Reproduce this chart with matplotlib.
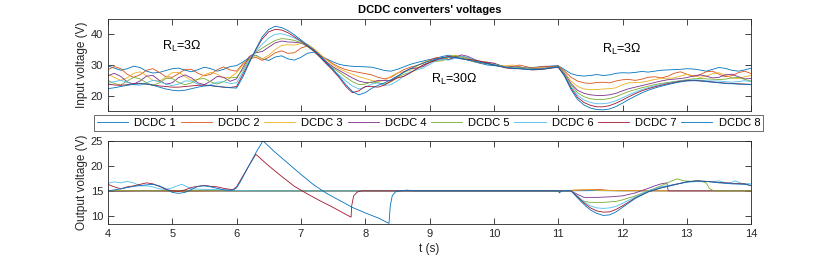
import numpy as np
import matplotlib
matplotlib.use("Agg")
import matplotlib.pyplot as plt

plt.rcParams["font.family"] = ["Liberation Sans", "DejaVu Sans"]
plt.rcParams["mathtext.fontset"] = "custom"
plt.rcParams["mathtext.rm"] = "Liberation Sans"

# --- data -------------------------------------------------------------
labels = ["DCDC 1", "DCDC 2", "DCDC 3", "DCDC 4",
          "DCDC 5", "DCDC 6", "DCDC 7", "DCDC 8"]
colors = ["#0072BD", "#D95319", "#EDB120", "#7E2F8E",
          "#77AC30", "#4DBEEE", "#A2142F", "#0072BD"]

# input voltages, sampled every 0.1 s from 4 s to 14 s
t_in = np.linspace(4, 14, 101)

in_1 = [29.7, 29.0, 28.3, 28.8, 29.6, 29.2, 28.0, 27.4, 27.6, 28.2, 28.8,
        29.0, 28.3, 27.8, 28.5, 29.3, 28.8, 28.0, 28.6, 29.5, 29.8,
        31.0, 32.5, 33.2, 32.0, 31.5, 32.6, 33.0, 32.0, 31.6, 32.5,
        33.8, 34.2, 33.0, 32.0, 31.0, 30.2, 29.8, 29.6, 29.5, 29.4,
        29.3, 28.8, 28.2, 28.0, 28.6, 29.4, 30.2, 30.8, 31.3, 31.8,
        32.2, 32.8, 33.2, 32.8, 32.2, 31.6, 31.0, 30.5, 30.0, 29.8,
        29.6, 29.2, 29.0, 29.3, 29.0, 29.2, 29.4, 29.5, 29.7, 29.8,
        28.5, 27.2, 26.6, 26.4, 26.6, 26.9, 26.6, 26.8, 27.3, 27.5,
        27.4, 27.6, 27.9, 27.7, 28.0, 28.3, 28.4, 28.5, 28.6, 28.8,
        28.7, 28.4, 28.0, 28.6, 29.2, 28.9, 28.3, 28.0, 28.4, 29.0]
in_2 = [28.5, 29.5, 28.8, 27.0, 26.0, 26.8, 28.3, 28.8, 27.6, 26.2, 26.0,
        27.2, 28.6, 28.6, 27.3, 26.5, 27.0, 28.5, 29.4, 28.4, 28.0,
        30.5, 32.0, 32.5, 31.5, 32.5, 34.0, 34.6, 33.8, 34.0, 35.5,
        36.2, 35.0, 33.2, 31.8, 30.4, 29.3, 28.5, 28.0, 27.6, 27.2,
        26.8, 26.0, 25.5, 26.0, 27.3, 28.5, 29.3, 29.8, 30.6, 31.6,
        32.4, 32.2, 31.8, 32.5, 32.9, 32.3, 31.2, 30.6, 30.8, 30.5,
        29.9, 29.3, 29.6, 30.0, 29.5, 29.0, 29.3, 29.6, 29.5, 29.7,
        28.0, 26.0, 24.8, 24.2, 24.0, 24.3, 24.4, 24.2, 24.8, 25.2,
        25.3, 25.0, 25.4, 26.0, 26.2, 25.8, 26.3, 27.3, 27.8, 27.0,
        26.3, 26.8, 27.8, 28.0, 27.0, 26.2, 26.5, 27.5, 28.0, 27.2]
in_3 = [27.0, 26.0, 25.0, 25.8, 27.3, 27.8, 26.5, 25.0, 24.8, 26.0, 27.5,
        27.6, 26.2, 25.0, 25.3, 26.8, 27.6, 27.0, 25.8, 26.0, 27.5,
        30.0, 32.6, 33.0, 32.0, 33.2, 35.0, 36.4, 36.6, 36.5, 37.0,
        36.8, 35.4, 33.6, 31.6, 30.0, 28.8, 27.8, 27.0, 26.2, 25.6,
        25.0, 24.6, 25.0, 26.3, 27.4, 27.8, 28.3, 29.5, 30.8, 31.5,
        31.4, 31.8, 32.8, 33.2, 32.6, 31.6, 31.0, 31.2, 31.0, 30.2,
        29.6, 29.8, 30.0, 29.4, 28.8, 29.0, 29.2, 29.0, 29.3, 29.6,
        27.5, 24.8, 23.0, 22.2, 22.0, 22.0, 22.2, 22.3, 22.6, 23.6,
        24.2, 24.3, 24.4, 24.8, 25.3, 25.6, 25.7, 25.8, 26.4, 26.9,
        26.6, 26.0, 26.3, 27.2, 27.5, 26.7, 25.8, 25.6, 26.2, 26.6]
in_4 = [26.5, 27.3, 26.3, 24.5, 23.8, 24.8, 26.4, 26.6, 25.0, 23.8, 24.2,
        25.9, 26.8, 25.8, 24.2, 23.6, 24.8, 26.3, 26.0, 24.7, 25.5,
        29.2, 32.8, 34.0, 34.4, 35.8, 37.2, 37.8, 37.5, 37.4, 37.2,
        36.2, 34.8, 33.0, 31.0, 29.4, 28.2, 27.0, 25.8, 24.8, 24.3,
        24.3, 25.0, 25.0, 25.0, 26.2, 27.8, 28.8, 29.0, 29.5, 30.8,
        32.0, 32.0, 31.8, 32.6, 33.3, 32.8, 31.8, 31.0, 30.9, 30.6,
        29.8, 29.3, 29.4, 29.4, 29.0, 28.8, 28.9, 29.0, 29.3, 29.5,
        27.2, 24.0, 21.8, 20.8, 20.3, 20.1, 20.1, 20.3, 20.8, 21.6,
        22.3, 22.8, 23.3, 23.8, 24.3, 24.8, 25.2, 25.4, 25.6, 25.9,
        26.4, 26.8, 26.4, 25.8, 26.0, 26.8, 27.0, 26.2, 25.5, 25.6]
in_5 = [25.0, 24.0, 23.5, 24.8, 26.0, 25.5, 24.2, 23.4, 24.2, 25.6, 25.6,
        24.3, 23.6, 24.2, 25.4, 25.6, 24.5, 23.8, 24.6, 25.8, 26.0,
        28.5, 32.0, 34.2, 35.5, 36.8, 38.0, 38.6, 38.4, 38.0, 37.3,
        36.0, 34.5, 32.6, 30.6, 29.0, 27.6, 26.0, 24.6, 23.6, 23.8,
        24.5, 24.2, 23.8, 24.5, 26.0, 27.0, 27.6, 28.6, 30.0, 31.0,
        31.2, 31.4, 32.4, 33.0, 32.6, 32.0, 31.4, 30.8, 30.4, 30.2,
        29.8, 29.3, 29.1, 29.2, 29.0, 28.7, 28.6, 28.9, 29.2, 29.4,
        27.0, 23.5, 21.0, 19.7, 19.0, 18.8, 18.8, 19.1, 19.7, 20.6,
        21.4, 22.0, 22.6, 23.1, 23.6, 24.0, 24.3, 24.6, 24.9, 25.2,
        25.5, 25.6, 25.5, 25.4, 25.3, 25.4, 25.8, 26.0, 25.3, 24.8]
in_6 = [24.0, 24.6, 25.0, 24.4, 23.6, 23.4, 24.2, 25.0, 24.6, 23.8, 23.3,
        23.8, 24.8, 24.8, 23.8, 23.2, 23.6, 24.4, 24.6, 24.0, 24.2,
        27.8, 31.5, 34.5, 36.8, 38.8, 40.0, 40.2, 39.6, 38.8, 37.6,
        36.2, 34.5, 32.4, 30.2, 28.4, 26.6, 24.8, 23.2, 22.2, 22.8,
        23.8, 24.2, 23.4, 23.6, 24.8, 26.4, 27.8, 28.4, 29.0, 30.2,
        31.4, 31.8, 31.6, 32.2, 32.8, 32.5, 31.6, 30.8, 30.4, 30.2,
        29.7, 29.2, 29.0, 29.0, 28.8, 28.6, 28.6, 28.8, 29.1, 29.3,
        26.8, 23.0, 20.2, 18.6, 17.8, 17.4, 17.4, 17.7, 18.4, 19.3,
        20.3, 21.2, 22.0, 22.6, 23.2, 23.7, 24.1, 24.5, 24.8, 25.0,
        25.2, 25.1, 24.9, 24.8, 24.8, 24.6, 24.4, 24.6, 24.9, 24.6]
in_7 = [23.8, 23.5, 23.4, 23.6, 23.9, 24.0, 23.8, 23.5, 23.2, 23.0, 22.8,
        22.8, 23.0, 23.2, 23.4, 23.5, 23.3, 23.0, 22.8, 22.7, 23.0,
        27.0, 31.0, 35.0, 38.5, 40.8, 41.6, 41.4, 40.5, 39.2, 37.8,
        36.2, 34.6, 32.6, 30.4, 28.2, 25.8, 23.0, 21.0, 21.6, 23.0,
        23.0, 22.8, 23.5, 24.8, 25.8, 26.3, 27.4, 28.8, 30.0, 30.8,
        31.6, 32.4, 32.8, 32.5, 32.0, 31.8, 31.6, 31.2, 30.6, 30.0,
        29.5, 29.0, 28.8, 28.8, 28.6, 28.4, 28.5, 28.7, 29.0, 29.3,
        26.5, 22.5, 19.5, 17.8, 16.9, 16.4, 16.4, 16.8, 17.6, 18.6,
        19.7, 20.7, 21.6, 22.3, 22.9, 23.4, 23.9, 24.3, 24.7, 24.9,
        25.0, 24.9, 24.7, 24.5, 24.3, 24.1, 24.0, 23.9, 23.8, 23.7]
in_8 = [22.3, 22.6, 23.0, 23.4, 23.7, 23.9, 23.8, 23.4, 22.8, 22.2, 21.8,
        21.6, 21.8, 22.3, 22.8, 23.2, 23.3, 23.1, 22.8, 22.6, 22.5,
        26.2, 30.8, 35.2, 39.2, 41.6, 42.6, 42.2, 41.2, 39.8, 38.2,
        36.6, 35.0, 33.0, 30.8, 28.6, 26.2, 23.6, 21.4, 20.3, 21.0,
        22.4, 23.4, 24.2, 25.2, 26.4, 27.6, 28.8, 29.8, 30.6, 31.3,
        31.9, 32.4, 32.6, 32.4, 32.0, 31.6, 31.2, 30.8, 30.4, 30.0,
        29.6, 29.2, 28.9, 28.8, 28.6, 28.5, 28.6, 28.8, 29.1, 29.4,
        26.3, 22.0, 18.8, 17.0, 16.0, 15.5, 15.4, 15.7, 16.5, 17.6,
        18.8, 19.9, 20.9, 21.8, 22.5, 23.1, 23.6, 24.1, 24.5, 24.8,
        24.9, 24.8, 24.6, 24.4, 24.2, 24.0, 23.9, 23.8, 23.7, 23.6]

# output voltages, (t, V) breakpoints per converter
out_1 = [(4.0, 15.0), (5.0, 15.0), (5.5, 15.05), (6.0, 15.0), (11.0, 15.0),
         (11.02, 14.7), (11.05, 15.0), (11.6, 15.05), (12.0, 15.0), (14.0, 15.0)]
out_2 = [(4.0, 14.95), (4.6, 15.0), (5.2, 14.9), (5.8, 15.0), (11.0, 15.0),
         (11.4, 15.2), (11.6, 15.3), (11.8, 15.1), (12.6, 15.0), (14.0, 15.0)]
out_3 = [(4.0, 15.05), (5.0, 15.1), (6.0, 15.05), (7.5, 15.0), (11.0, 15.0),
         (11.2, 15.1), (11.5, 15.3), (11.6, 15.1), (12.0, 15.0), (14.0, 15.0)]
out_4 = [(4.0, 14.9), (4.5, 15.0), (11.2, 15.0), (11.3, 14.3), (11.4, 13.7),
         (11.6, 13.7), (11.8, 13.8), (12.0, 14.0), (12.2, 14.6), (12.4, 15.5),
         (12.5, 16.0), (12.6, 16.4), (12.69, 16.6), (12.71, 15.0), (14.0, 15.0)]
out_5 = [(4.0, 15.0), (11.2, 15.0), (11.3, 13.8), (11.4, 12.9), (11.5, 12.7),
         (11.7, 12.7), (11.9, 12.9), (12.0, 13.2), (12.2, 14.0), (12.4, 15.0),
         (12.6, 16.0), (12.75, 16.9), (12.85, 17.4), (12.95, 17.0), (13.1, 16.9),
         (13.2, 17.0), (13.3, 16.6), (13.35, 15.5), (13.42, 15.0), (14.0, 15.0)]
out_6 = [(4.0, 16.5), (4.1, 16.8), (4.2, 16.6), (4.3, 16.9), (4.4, 16.6),
         (4.5, 16.0), (4.6, 16.0), (4.7, 15.8), (4.8, 15.4), (4.9, 15.3),
         (5.0, 15.6), (5.1, 16.1), (5.15, 16.3), (5.2, 16.0), (5.3, 15.4),
         (5.5, 15.3), (5.8, 15.2), (6.0, 15.1), (6.2, 15.0), (11.2, 15.0),
         (11.3, 14.0), (11.4, 12.8), (11.5, 12.0), (11.6, 11.6), (11.7, 11.5),
         (11.8, 11.6), (11.9, 11.9), (12.0, 12.5), (12.2, 13.8), (12.4, 15.0),
         (12.6, 15.8), (12.8, 16.3), (13.0, 16.7), (13.2, 16.9), (13.4, 16.8),
         (13.5, 17.0), (13.6, 16.6), (13.7, 16.7), (13.75, 17.0), (13.85, 16.5),
         (14.0, 16.4)]
out_7 = [(4.0, 16.3), (4.1, 15.8), (4.2, 15.4), (4.3, 15.8), (4.4, 16.0),
         (4.5, 16.3), (4.6, 16.6), (4.7, 16.4), (4.8, 15.9), (4.9, 15.3),
         (5.0, 15.0), (5.1, 14.9), (5.2, 15.2), (5.3, 15.7), (5.4, 15.9),
         (5.5, 16.1), (5.6, 15.9), (5.7, 15.8), (5.8, 15.5), (5.9, 15.3),
         (5.95, 15.3), (6.0, 15.8), (6.05, 16.9), (6.1, 18.0), (6.2, 20.2),
         (6.3, 22.3), (6.5, 20.0), (6.7, 17.9), (6.9, 15.9), (7.1, 14.4),
         (7.3, 13.0), (7.5, 11.7), (7.7, 10.3), (7.78, 9.75), (7.79, 12.0),
         (7.82, 14.0), (7.88, 14.8), (7.95, 15.0), (11.2, 15.0), (11.3, 13.8),
         (11.4, 12.6), (11.5, 11.6), (11.6, 11.0), (11.7, 10.75), (11.8, 10.8),
         (11.9, 11.3), (12.0, 12.0), (12.2, 13.6), (12.4, 14.8), (12.6, 15.6),
         (12.8, 16.2), (13.0, 16.8), (13.15, 17.0), (13.3, 16.9), (13.5, 16.7),
         (13.7, 16.5), (13.9, 16.4), (14.0, 16.0)]
out_8 = [(4.0, 15.0), (4.2, 15.4), (4.4, 15.9), (4.6, 16.2), (4.7, 16.3),
         (4.8, 16.0), (4.9, 15.4), (5.0, 14.7), (5.1, 14.5), (5.2, 14.7),
         (5.3, 15.3), (5.4, 15.9), (5.5, 16.0), (5.6, 15.8), (5.7, 15.5),
         (5.8, 15.2), (5.9, 15.1), (5.95, 15.2), (6.0, 15.6), (6.05, 16.6),
         (6.1, 17.8), (6.2, 20.2), (6.3, 22.6), (6.41, 25.0), (6.6, 22.7),
         (6.8, 20.5), (7.0, 18.3), (7.2, 16.2), (7.4, 14.5), (7.6, 13.1),
         (7.8, 11.7), (8.0, 10.6), (8.2, 9.6), (8.37, 8.5), (8.39, 12.0),
         (8.42, 14.0), (8.47, 14.8), (8.55, 15.0), (8.65, 15.15), (8.75, 15.0),
         (11.0, 15.0), (11.02, 14.6), (11.05, 15.0), (11.2, 15.0), (11.3, 13.6),
         (11.4, 12.3), (11.5, 11.2), (11.6, 10.5), (11.7, 10.1), (11.8, 10.2),
         (11.9, 10.8), (12.0, 11.7), (12.2, 13.5), (12.4, 14.8), (12.6, 15.6),
         (12.8, 16.2), (13.0, 16.8), (13.15, 17.0), (13.3, 16.9), (13.5, 16.6),
         (13.7, 16.4), (13.9, 16.3), (14.0, 16.1)]

inputs = [in_1, in_2, in_3, in_4, in_5, in_6, in_7, in_8]
outputs = [out_1, out_2, out_3, out_4, out_5, out_6, out_7, out_8]

AX_COLOR = "#262626"


def style(ax):
    ax.tick_params(direction="in", top=True, right=True, length=4, width=0.6,
                   colors=AX_COLOR, labelsize=8)
    for s in ax.spines.values():
        s.set_color(AX_COLOR)
        s.set_linewidth(0.6)
    ax.set_xlim(4, 14)
    ax.set_xticks(range(4, 15))


fig = plt.figure(figsize=(8.3, 2.56), dpi=100)
ax_in = fig.add_axes([0.130, 0.566, 0.775, 0.360])
ax_out = fig.add_axes([0.130, 0.124, 0.775, 0.326])

lines = []
for vals, c, lab in zip(inputs, colors, labels):
    ln, = ax_in.plot(t_in, vals, color=c, lw=0.6, label=lab)
    lines.append(ln)
for pts, c in zip(outputs, colors):
    tt, vv = zip(*pts)
    ax_out.plot(tt, vv, color=c, lw=0.6)

style(ax_in)
ax_in.set_ylim(15, 45)
ax_in.set_yticks([20, 30, 40])
ax_in.tick_params(labelbottom=False)
ax_in.set_ylabel("Input voltage (V)", fontsize=8.5, color=AX_COLOR, labelpad=2)
ax_in.set_title("DCDC converters' voltages", fontsize=8, fontweight="bold",
                pad=4, color="black")

ann = dict(fontsize=9, color="black", ha="left", va="center")
ax_in.text(4.84, 36.0, "R$_\\mathregular{L}$=3\u03a9", **ann)
ax_in.text(9.02, 25.2, "R$_\\mathregular{L}$=30\u03a9", **ann)
ax_in.text(11.68, 35.0, "R$_\\mathregular{L}$=3\u03a9", **ann)

style(ax_out)
ax_out.set_ylim(8.33, 25)
ax_out.set_yticks([10, 15, 20, 25])
ax_out.set_ylabel("Output voltage (V)", fontsize=8.5, color=AX_COLOR, labelpad=2)
ax_out.set_xlabel("t (s)", fontsize=8.5, color=AX_COLOR, labelpad=3)

leg = fig.legend(lines, labels, loc="center", bbox_to_anchor=(0.5165, 0.52),
                 ncol=8, fontsize=8, frameon=True, fancybox=False,
                 handlelength=2.8, handletextpad=0.55, columnspacing=0.42,
                 borderpad=0.25, borderaxespad=0)
leg.get_frame().set_edgecolor(AX_COLOR)
leg.get_frame().set_linewidth(0.6)

fig.savefig("out.png", dpi=100)
